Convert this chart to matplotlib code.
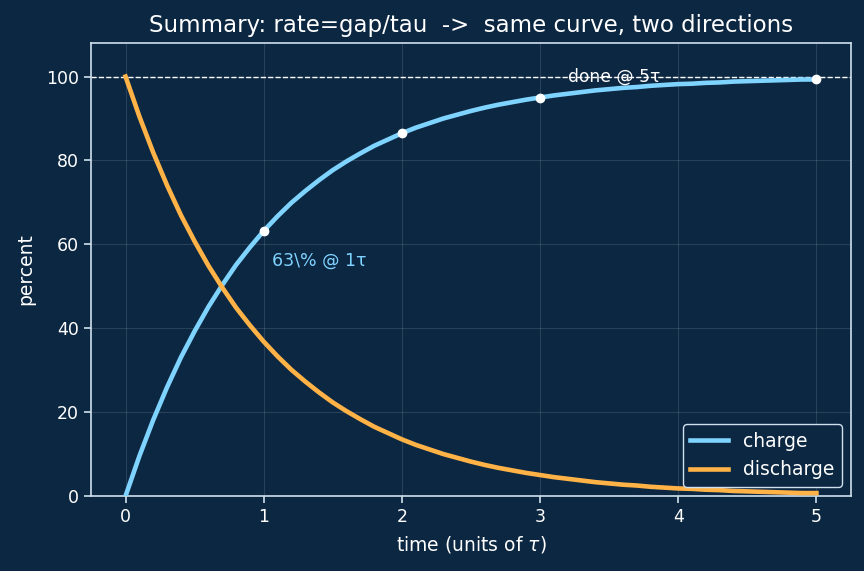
import matplotlib
matplotlib.use("Agg")
import matplotlib.pyplot as plt

time = [0.0, 0.1, 0.2, 0.3, 0.4, 0.5, 0.6, 0.7, 0.8, 0.9,
        1.0, 1.1, 1.2, 1.3, 1.4, 1.5, 1.6, 1.7, 1.8, 1.9,
        2.0, 2.1, 2.2, 2.3, 2.4, 2.5, 2.6, 2.7, 2.8, 2.9,
        3.0, 3.1, 3.2, 3.3, 3.4, 3.5, 3.6, 3.7, 3.8, 3.9,
        4.0, 4.1, 4.2, 4.3, 4.4, 4.5, 4.6, 4.7, 4.8, 4.9, 5.0]
charge = [0, 9.5, 18.1, 25.9, 33.0, 39.3, 45.1, 50.3, 55.1, 59.3,
          63.2, 66.7, 69.9, 72.7, 75.3, 77.7, 79.8, 81.7, 83.5, 85.0,
          86.5, 87.8, 88.9, 90.0, 90.9, 91.8, 92.6, 93.3, 93.9, 94.5,
          95.0, 95.5, 95.9, 96.3, 96.7, 97.0, 97.3, 97.5, 97.8, 98.0,
          98.2, 98.3, 98.5, 98.6, 98.8, 98.9, 99.0, 99.1, 99.2, 99.3, 99.3]
discharge = [100, 90.5, 81.9, 74.1, 67.0, 60.7, 54.9, 49.7, 44.9, 40.7,
             36.8, 33.3, 30.1, 27.3, 24.7, 22.3, 20.2, 18.3, 16.5, 15.0,
             13.5, 12.2, 11.1, 10.0, 9.1, 8.2, 7.4, 6.7, 6.1, 5.5,
             5.0, 4.5, 4.1, 3.7, 3.3, 3.0, 2.7, 2.5, 2.2, 2.0,
             1.8, 1.7, 1.5, 1.4, 1.2, 1.1, 1.0, 0.9, 0.8, 0.7, 0.7]
marker_t = [1, 2, 3, 5]
marker_v = [63.2, 86.5, 95.0, 99.3]

BG = "#0c2742"
FG = "#ffffff"
SPINE = "#cfe0ee"
C_CHARGE = "#7fd3ff"
C_DIS = "#ffb347"

fig = plt.figure(figsize=(8.64, 5.71), dpi=100, facecolor=BG)
ax = fig.add_axes([91/864, 1-496/571, (851-91)/864, (496-43)/571])
ax.set_facecolor(BG)

ax.plot(time, charge, color=C_CHARGE, lw=3.3, label="charge", zorder=3)
ax.plot(time, discharge, color=C_DIS, lw=3.3, label="discharge", zorder=3)
ax.plot(marker_t, marker_v, "o", color="white", ms=6, zorder=4)
ax.axhline(100, color="white", ls="--", lw=1, zorder=2)

ax.text(3.2, 100, "done @ 5τ", color="white", fontsize=12.3, va="center", ha="left", zorder=5)
ax.text(1.06, 56, "63\\% @ 1τ", color=C_CHARGE, fontsize=12.5, va="center", ha="left")

ax.set_xlim(-0.25, 5.25)
ax.set_ylim(0, 108)
ax.set_xticks([0, 1, 2, 3, 4, 5])
ax.set_yticks([0, 20, 40, 60, 80, 100])
ax.grid(True, color="white", alpha=0.12, lw=0.8)
ax.set_axisbelow(True)

for s in ax.spines.values():
    s.set_color(SPINE)
    s.set_linewidth(1.2)
ax.tick_params(colors=SPINE, labelcolor=FG, labelsize=12.5, length=5, width=1.2)

ax.set_xlabel("time (units of $\\tau$)", color=FG, fontsize=13.5, labelpad=6)
ax.set_ylabel("percent", color=FG, fontsize=13.5, labelpad=8)
ax.set_title("Summary: rate=gap/tau  ->  same curve, two directions", color=FG, fontsize=16.5, pad=8)

leg = ax.legend(loc="lower right", facecolor=BG, edgecolor=SPINE, fontsize=13.5, framealpha=1)
for t in leg.get_texts():
    t.set_color(FG)

fig.savefig("out.png", dpi=100, facecolor=BG)
